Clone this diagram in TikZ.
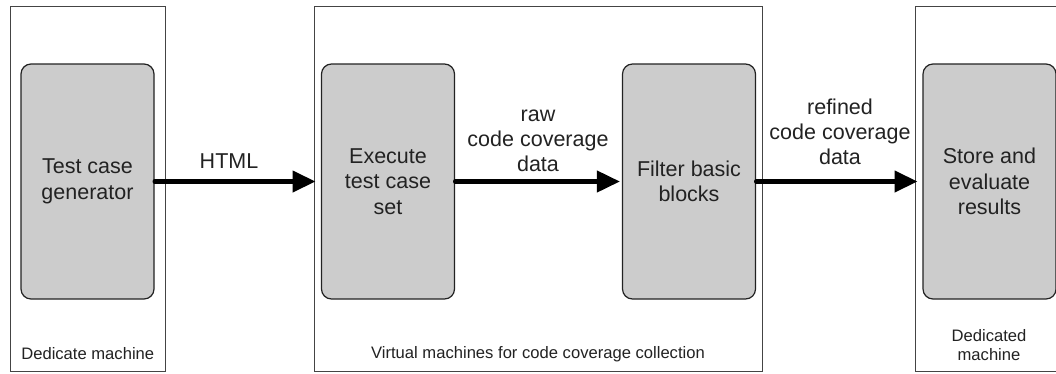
\documentclass[tikz,border=0pt]{standalone}
\usepackage{fontspec}
\setmainfont{Liberation Sans}
\usetikzlibrary{arrows.meta}
\definecolor{boxfill}{HTML}{CCCCCC}
\definecolor{inkdark}{HTML}{222222}
\definecolor{framegray}{HTML}{444444}
\tikzset{
  machine/.style={draw=framegray, line width=1pt, fill=none, inner sep=0pt},
  stepbox/.style={draw=inkdark, line width=1.2pt, fill=boxfill, rounded corners=10pt,
    minimum width=133pt, minimum height=235pt, inner sep=0pt, align=center,
    text=inkdark, font=\fontsize{21.5}{25.5}\selectfont},
  flow/.style={line width=4.2pt, line cap=round, -{Triangle[length=23pt,width=21pt]}},
  flowlabel/.style={inner sep=0pt, align=center, text=inkdark, font=\fontsize{21.5}{25}\selectfont},
  machinelabel/.style={inner sep=0pt, align=center, text=inkdark, font=\fontsize{16.6}{19.5}\selectfont}
}
\begin{document}
\begin{tikzpicture}[x=1pt, y=1pt]
  \useasboundingbox (0,0) rectangle (1056,-373);
  \fill[white] (0,0) rectangle (1056,-373);

  % machine frames
  \node[machine, minimum width=155.5pt, minimum height=365pt] (dm) at (87.75,-188.5) {};
  \node[machine, minimum width=448pt, minimum height=365pt] (vm) at (538,-188.5) {};
  \node[machine, minimum width=148pt, minimum height=365pt] (sm) at (989,-188.5) {};

  % processing steps
  \node[stepbox] (gen) at (87.5,-181.5) {Test case\\generator};
  \node[stepbox] (exec) at (388,-181.5) {Execute\\test case\\set};
  \node[stepbox] (filt) at (689,-181.5) {Filter basic\\blocks};
  \node[stepbox] (store) at (989.5,-181.5) {Store and\\evaluate\\results};

  % data flow
  \draw[flow] (gen.east) -- ([xshift=2pt]gen.east -| vm.west);
  \draw[flow] (exec.east) -- ([xshift=-2pt]filt.west);
  \draw[flow] (filt.east) -- ([xshift=3pt]filt.east -| sm.west);

  % flow labels
  \node[flowlabel, anchor=base] (lhtml) at (229,-168) {HTML};
  \node[flowlabel, anchor=south] (lraw) at (538,-172) {raw\\code coverage\\data};
  \node[flowlabel, anchor=south] (lref) at (840,-164.5) {refined\\code coverage\\data};

  % machine labels
  \node[machinelabel, anchor=base] (ldm) at (87.75,-359) {Dedicate machine};
  \node[machinelabel, anchor=base] (lvm) at (538,-358) {Virtual machines for code coverage collection};
  \node[machinelabel, anchor=south] (lsm) at (989,-361) {Dedicated\\machine};
\end{tikzpicture}
\end{document}
